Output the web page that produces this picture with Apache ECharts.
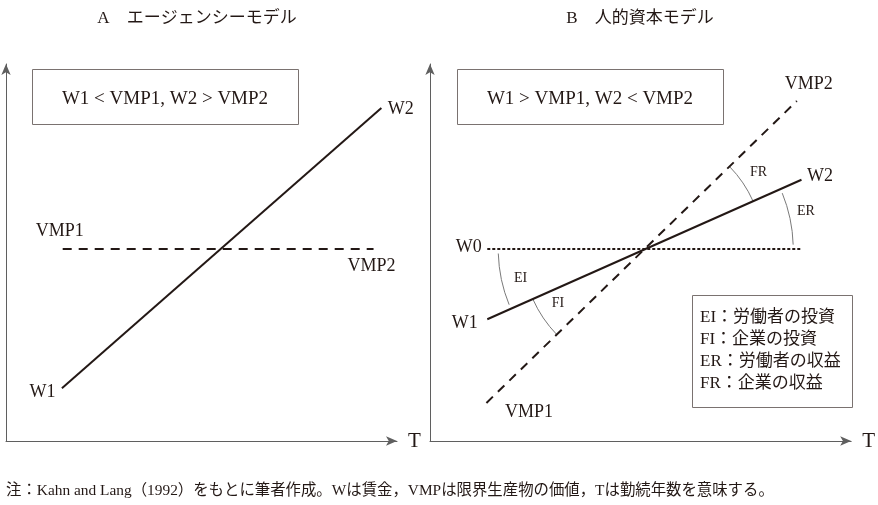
<!DOCTYPE html>
<html><head><meta charset="utf-8">
<script src="https://cdn.jsdelivr.net/npm/echarts@6/dist/echarts.min.js"></script>
<style>html,body{margin:0;padding:0;background:#fff}#c{width:878px;height:505px}</style>
</head><body><div id="c"></div>
<script>
// ---------- data ----------
// Panel A : agency model
const panelATitle = 'A　エージェンシーモデル';
const panelABoxText = 'W1 < VMP1, W2 > VMP2';
const aWageT = [14.3, 96];
const aWage = [14, 88.3];
const aWageNames = ['W1', 'W2'];
const aVmpT = [14.5, 94];
const aVmp = [50.9, 50.9];
const aVmpNames = ['VMP1', 'VMP2'];
// Panel B : human capital model
const panelBTitle = 'B　人的資本モデル';
const panelBBoxText = 'W1 > VMP1, W2 < VMP2';
const bWageT = [13.6, 88.2];
const bWage = [32.3, 69.3];
const bWageNames = ['W1', 'W2'];
const bVmpT = [13.4, 87.1];
const bVmp = [10.1, 90.2];
const bVmpNames = ['VMP1', 'VMP2'];
const bW0T = [13.6, 88.2];
const bW0 = [50.9, 50.9];
const bW0Names = ['W0', ''];
const legendLines = ['EI：労働者の投資', 'FI：企業の投資', 'ER：労働者の収益', 'FR：企業の収益'];
const axisName = 'T';
const footnote = '注：Kahn and Lang（1992）をもとに筆者作成。Wは賃金，VMPは限界生産物の価値，Tは勤続年数を意味する。';

// ---------- styles ----------
const INK = '#231815';
const AXIS = '#5f5f5f';
const SERIF = "'Liberation Serif','Noto Sans CJK JP',serif";
const lbl = (o) => Object.assign({show: true, color: INK, fontFamily: SERIF, fontSize: 18}, o);

function pts(ts, ys, names, labelOpts) {
  return ts.map((t, i) => ({
    value: [t, ys[i]],
    label: names[i] ? lbl(Object.assign({formatter: names[i]}, labelOpts[i])) : {show: false}
  }));
}

function lineSeries(gi, data, type, width) {
  return {
    type: 'line', xAxisIndex: gi, yAxisIndex: gi, data: data,
    symbol: 'circle', symbolSize: 1, showSymbol: true,
    itemStyle: {color: 'rgba(0,0,0,0)'},
    lineStyle: {color: INK, width: width, type: type},
    silent: true, animation: false, z: 3
  };
}

// crossing point in panel B (wage line meets W0 level)
const slopeW = (bWage[1] - bWage[0]) / (bWageT[1] - bWageT[0]);
const crossT = bWageT[0] + (bW0[0] - bWage[0]) / slopeW;
const crossY = bW0[0];

// arc specs: lines are referenced by their end points
const arcSpecs = [
  {text: 'EI', a: [bW0T[0], bW0[0]], b: [bWageT[0], bWage[0]], r: 147, lr: 128, la: 0.45, inset: 0.03},
  {text: 'FI', a: [bWageT[0], bWage[0]], b: [bVmpT[0], bVmp[0]], r: 123, lr: 103, la: 0.6, inset: 0.0},
  {text: 'FR', a: [bVmpT[1], bVmp[1]], b: [bWageT[1], bWage[1]], r: 118, lr: 137, la: 0.5, inset: 0.0},
  {text: 'ER', a: [bWageT[1], bWage[1]], b: [bW0T[1], bW0[1]], r: 148, lr: 165, la: 0.45, inset: 0.03}
];

function axisPair(gi) {
  const common = {
    gridIndex: gi, type: 'value', min: 0, max: 100,
    axisLine: {show: true, onZero: false, symbol: ['none', 'arrow'], symbolSize: [7, 11],
      lineStyle: {color: AXIS, width: 1}},
    axisTick: {show: false}, axisLabel: {show: false}, splitLine: {show: false}
  };
  const x = Object.assign({}, common, {
    name: axisName, nameLocation: 'end', nameGap: 11,
    nameTextStyle: {color: INK, fontFamily: SERIF, fontSize: 21, verticalAlign: 'middle'}
  });
  const y = Object.assign({}, common);
  return [x, y];
}
const [xa0, ya0] = axisPair(0);
const [xa1, ya1] = axisPair(1);

const chart = echarts.init(document.getElementById('c'), null, {renderer: 'canvas'});

const legendTexts = legendLines.map((t, i) => ({
  type: 'text', z: 20, x: 700, y: 318 + i * 22,
  style: {text: t, fill: INK, font: '17px ' + SERIF, align: 'left', verticalAlign: 'middle'}
}));

const option = {
  backgroundColor: '#fff',
  animation: false,
  grid: [
    {left: 6, top: 64, width: 391, height: 377},
    {left: 430, top: 64, width: 425, height: 377}
  ],
  xAxis: [xa0, xa1],
  yAxis: [ya0, ya1],
  series: [
    lineSeries(0, pts(aWageT, aWage, aWageNames, [
      {position: 'left', distance: 6, offset: [0, 4]},
      {position: 'right', distance: 6, offset: [0, 1]}
    ]), 'solid', 2),
    lineSeries(0, pts(aVmpT, aVmp, aVmpNames, [
      {position: 'top', distance: 8, offset: [-3, 0]},
      {position: 'bottom', distance: 8, offset: [-2, 0]}
    ]), [9, 7], 2),
    lineSeries(1, pts(bW0T, bW0, bW0Names, [
      {position: 'left', distance: 5, offset: [0, -2]}, {}
    ]), [3, 2], 2),
    lineSeries(1, pts(bWageT, bWage, bWageNames, [
      {position: 'left', distance: 9, offset: [0, 4]},
      {position: 'right', distance: 5, offset: [0, -3]}
    ]), 'solid', 2),
    lineSeries(1, pts(bVmpT, bVmp, bVmpNames, [
      {position: 'right', distance: 18, offset: [0, 9]},
      {position: 'top', distance: 7, offset: [12, 0]}
    ]), [9, 7], 2),
    {
      type: 'custom', xAxisIndex: 1, yAxisIndex: 1, silent: true, animation: false, z: 2,
      data: arcSpecs.map(() => [crossT, crossY]),
      encode: {x: 0, y: 1},
      renderItem: function (params, api) {
        const s = arcSpecs[params.dataIndex];
        const c = api.coord([api.value(0), api.value(1)]);
        const pa = api.coord(s.a), pb = api.coord(s.b);
        const a1 = Math.atan2(pa[1] - c[1], pa[0] - c[0]);
        const a2 = Math.atan2(pb[1] - c[1], pb[0] - c[0]);
        const mn = Math.min(a1, a2), mx = Math.max(a1, a2);
        const mid = mn + (mx - mn) * s.la;
        return {
          type: 'group',
          children: [
            {type: 'arc', shape: {cx: c[0], cy: c[1], r: s.r, startAngle: mn + s.inset, endAngle: mx - s.inset, clockwise: true},
              style: {stroke: '#7a7a7a', fill: null, lineWidth: 1}},
            {type: 'text', x: c[0] + s.lr * Math.cos(mid), y: c[1] + s.lr * Math.sin(mid),
              style: {text: s.text, fill: INK, font: '14px ' + SERIF, align: 'center', verticalAlign: 'middle'}}
          ]
        };
      }
    }
  ],
  graphic: [
    {type: 'text', x: 197, y: 19, style: {text: panelATitle, fill: INK, font: '17px ' + SERIF, align: 'center', verticalAlign: 'middle'}},
    {type: 'text', x: 640, y: 19, style: {text: panelBTitle, fill: INK, font: '17px ' + SERIF, align: 'center', verticalAlign: 'middle'}},
    {type: 'rect', shape: {x: 32.5, y: 69.5, width: 266, height: 55}, style: {fill: '#fff', stroke: '#7a7270', lineWidth: 1}},
    {type: 'text', x: 165, y: 99, style: {text: panelABoxText, fill: INK, font: '19px ' + SERIF, align: 'center', verticalAlign: 'middle'}},
    {type: 'rect', shape: {x: 457.5, y: 69.5, width: 266, height: 55}, style: {fill: '#fff', stroke: '#7a7270', lineWidth: 1}},
    {type: 'text', x: 590, y: 99, style: {text: panelBBoxText, fill: INK, font: '19px ' + SERIF, align: 'center', verticalAlign: 'middle'}},
    {type: 'rect', z: 10, shape: {x: 692.5, y: 295.5, width: 160, height: 112}, style: {fill: '#fff', stroke: '#7a7270', lineWidth: 1}}
  ].concat(legendTexts, [
    {type: 'text', x: 6, y: 491, style: {text: footnote, fill: INK, font: '15.4px ' + SERIF, align: 'left', verticalAlign: 'middle'}}
  ])
};
chart.setOption(option);
</script>
</body></html>
